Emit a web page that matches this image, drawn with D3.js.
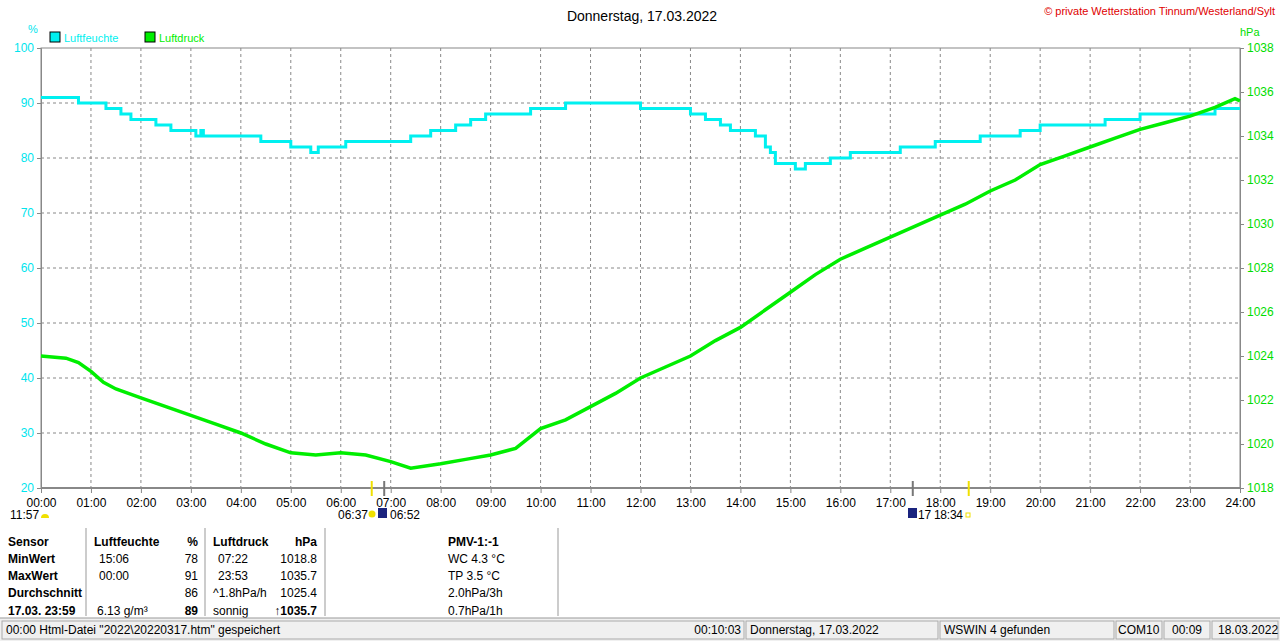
<!DOCTYPE html>
<html><head><meta charset="utf-8">
<script src="https://cdn.jsdelivr.net/npm/d3@7"></script>
<style>
body{margin:0;background:#fff;font-family:"Liberation Sans",Arial,sans-serif;}
text{font-family:"Liberation Sans",Arial,sans-serif;}
</style></head><body>
<svg id="c" width="1280" height="641"></svg>
<script>
// humidity steps [hour, %]
var humT = [0,0.75,1.3,1.6,1.8,2.3,2.6,3.1,3.2,3.25,4.4,5.0,5.4,5.55,6.1,7.4,7.8,8.3,8.6,8.9,9.8,10.5,12.0,13.0,13.3,13.6,13.8,14.3,14.5,14.6,14.7,15.1,15.3,15.8,16.2,17.2,17.9,18.8,19.6,20.0,21.3,22.0,23.5,24];
var humV = [91,90,89,88,87,86,85,84,85,84,83,82,81,82,83,84,85,86,87,88,89,90,89,88,87,86,85,84,82,81,79,78,79,80,81,82,83,84,85,86,87,88,89,89];
// pressure [hour, hPa]
var presT = [0,0.5,0.75,1.0,1.25,1.5,2.0,2.5,3.0,3.5,4.0,4.5,5.0,5.5,6.0,6.5,7.0,7.4,8.0,8.5,9.0,9.5,10.0,10.5,11.0,11.5,12.0,12.5,13.0,13.5,14.0,14.5,15.0,15.5,16.0,16.5,17.0,17.5,18.0,18.5,19.0,19.5,20.0,20.5,21.0,21.5,22.0,22.5,23.0,23.5,23.9,24];
var presV = [1024.0,1023.9,1023.7,1023.3,1022.8,1022.5,1022.1,1021.7,1021.3,1020.9,1020.5,1020.0,1019.6,1019.5,1019.6,1019.5,1019.2,1018.9,1019.1,1019.3,1019.5,1019.8,1020.7,1021.1,1021.7,1022.3,1023.0,1023.5,1024.0,1024.7,1025.3,1026.1,1026.9,1027.7,1028.4,1028.9,1029.4,1029.9,1030.4,1030.9,1031.5,1032.0,1032.7,1033.1,1033.5,1033.9,1034.3,1034.6,1034.9,1035.3,1035.7,1035.6];
var hourLabels = d3.range(0,25).map(function(h){return (h<10?"0":"")+h+":00";});
var humTicks = d3.range(20,101,10);
var presTicks = d3.range(1018,1039,2);

var svg = d3.select("#c");
var x = d3.scaleLinear().domain([0,24]).range([41,1240]);
var yH = d3.scaleLinear().domain([20,100]).range([488,48]);
var yP = d3.scaleLinear().domain([1018,1038]).range([488,48]);

// grid
svg.append("g").selectAll("line").data(d3.range(1,24)).enter().append("line")
  .attr("x1",function(d){return x(d);}).attr("x2",function(d){return x(d);})
  .attr("y1",48).attr("y2",488).attr("stroke","#888").attr("stroke-dasharray","3,3");
svg.append("g").selectAll("line").data(humTicks.slice(1,-1)).enter().append("line")
  .attr("x1",41).attr("x2",1240).attr("y1",function(d){return yH(d);}).attr("y2",function(d){return yH(d);})
  .attr("stroke","#888").attr("stroke-dasharray","3,3");
svg.append("rect").attr("x",41).attr("y",48).attr("width",1199).attr("height",440).attr("fill","none").attr("stroke","#888");
svg.append("line").attr("x1",41).attr("x2",1240).attr("y1",488).attr("y2",488).attr("stroke","#888").attr("stroke-width",2);

// axes
var axL = svg.append("g").attr("transform","translate(41,0)").call(d3.axisLeft(yH).tickValues(humTicks).tickSize(4));
axL.selectAll("text").attr("fill","#00e5ee").style("font-size","12px");
var axR = svg.append("g").attr("transform","translate(1240,0)").call(d3.axisRight(yP).tickValues(presTicks).tickSize(4).tickFormat(d3.format("d")));
axR.selectAll("text").attr("fill","#00dd00").style("font-size","12px");
var axB = svg.append("g").attr("transform","translate(0,488)").call(d3.axisBottom(x).tickValues(d3.range(0,25)).tickSize(5).tickFormat(function(d){return hourLabels[d];}));
axB.selectAll("text").attr("fill","#000").style("font-size","12px").attr("dy","0.9em");
[axL,axR,axB].forEach(function(a){a.select(".domain").attr("stroke","#888");a.selectAll(".tick line").attr("stroke","#888");});

svg.append("text").attr("x",28).attr("y",33).attr("fill","#00e5ee").style("font-size","11px").text("%");
svg.append("text").attr("x",1240).attr("y",36).attr("fill","#00dd00").style("font-size","11px").text("hPa");

// lines
svg.append("path").datum(d3.zip(humT,humV)).attr("fill","none").attr("stroke","#00f0f0").attr("stroke-width",3)
  .attr("d",d3.line().x(function(d){return x(d[0]);}).y(function(d){return yH(d[1]);}).curve(d3.curveStepAfter));
svg.append("path").datum(d3.zip(presT,presV)).attr("fill","none").attr("stroke","#00ee00").attr("stroke-width",3.5)
  .attr("d",d3.line().x(function(d){return x(d[0]);}).y(function(d){return yP(d[1]);}));

// title & legend
svg.append("text").attr("x",642).attr("y",21).attr("text-anchor","middle").style("font-size","14px").text("Donnerstag, 17.03.2022");
svg.append("text").attr("x",1275).attr("y",15).attr("text-anchor","end").attr("fill","#e00000").style("font-size","11px").text("© private Wetterstation Tinnum/Westerland/Sylt");
[["Luftfeuchte","#00f0f0",50],["Luftdruck","#00ee00",145]].forEach(function(l){
  svg.append("rect").attr("x",l[2]).attr("y",32).attr("width",10).attr("height",10).attr("fill",l[1]).attr("stroke","#000");
  svg.append("text").attr("x",l[2]+14).attr("y",42).attr("fill",l[1]).style("font-size","11px").text(l[0]);
});

// sun/moon markers
[[6.62,"#f0e000"],[18.57,"#f0e000"]].forEach(function(m){
  svg.append("line").attr("x1",x(m[0])).attr("x2",x(m[0])).attr("y1",481).attr("y2",496).attr("stroke",m[1]).attr("stroke-width",2);});
[[6.87],[17.45]].forEach(function(m){
  svg.append("line").attr("x1",x(m[0])).attr("x2",x(m[0])).attr("y1",481).attr("y2",496).attr("stroke","#777").attr("stroke-width",2);});
function t(xx,yy,s,o){var e=svg.append("text").attr("x",xx).attr("y",yy).style("font-size","12px").text(s);if(o){for(var k in o)e.attr(k,o[k]);}return e;}
t(10,519,"11:57"); svg.append("path").attr("d","M41,518 a4,4 0 0,1 8,0z").attr("fill","#f0e000");
t(338,519,"06:37"); svg.append("circle").attr("cx",372).attr("cy",514).attr("r",3.5).attr("fill","#f0e000");
svg.append("rect").attr("x",378).attr("y",508).attr("width",9).attr("height",10).attr("fill","#1a237e");
t(390,519,"06:52");
svg.append("rect").attr("x",908).attr("y",508).attr("width",9).attr("height",10).attr("fill","#1a237e");
t(918,519,"17 18:34",{"textLength":45}); svg.append("rect").attr("x",966).attr("y",513).attr("width",4).attr("height",4).attr("fill","none").attr("stroke","#f0e000");

// table
[86,205,325,558].forEach(function(xx){svg.append("line").attr("x1",xx).attr("x2",xx).attr("y1",528).attr("y2",616).attr("stroke","#bbb").attr("stroke-width",1.5);});
var rows=[536,553,570,587,605];
t(8,rows[0]+10,"Sensor",{"font-weight":"bold"});t(8,rows[1]+10,"MinWert",{"font-weight":"bold"});t(8,rows[2]+10,"MaxWert",{"font-weight":"bold"});
t(8,rows[3]+10,"Durchschnitt",{"font-weight":"bold"});t(8,rows[4]+10,"17.03.  23:59",{"font-weight":"bold","font-size":"13px"});
t(94,rows[0]+10,"Luftfeuchte",{"font-weight":"bold"});t(198,rows[0]+10,"%",{"font-weight":"bold","text-anchor":"end"});
t(99,rows[1]+10,"15:06");t(198,rows[1]+10,"78",{"text-anchor":"end"});
t(99,rows[2]+10,"00:00");t(198,rows[2]+10,"91",{"text-anchor":"end"});
t(198,rows[3]+10,"86",{"text-anchor":"end"});
t(97,rows[4]+10,"6.13 g/m³");t(198,rows[4]+10,"89",{"text-anchor":"end","font-weight":"bold","font-size":"13px"});
t(213,rows[0]+10,"Luftdruck",{"font-weight":"bold"});t(317,rows[0]+10,"hPa",{"font-weight":"bold","text-anchor":"end"});
t(218,rows[1]+10,"07:22");t(317,rows[1]+10,"1018.8",{"text-anchor":"end"});
t(218,rows[2]+10,"23:53");t(317,rows[2]+10,"1035.7",{"text-anchor":"end"});
t(213,rows[3]+10,"^1.8hPa/h");t(317,rows[3]+10,"1025.4",{"text-anchor":"end"});
t(213,rows[4]+10,"sonnig");t(317,rows[4]+10,"↑1035.7",{"text-anchor":"end","font-weight":"bold","font-size":"13px"});
t(448,rows[0]+10,"PMV-1:-1",{"font-weight":"bold"});
t(448,rows[1]+10,"WC 4.3 °C");t(448,rows[2]+10,"TP 3.5 °C");t(448,rows[3]+10,"2.0hPa/3h");t(448,rows[4]+10,"0.7hPa/1h");

// status bar
svg.append("rect").attr("x",0).attr("y",618).attr("width",1280).attr("height",23).attr("fill","#f0f0f0");
svg.append("line").attr("x1",0).attr("x2",1280).attr("y1",618).attr("y2",618).attr("stroke","#999");
[[2,744],[746,938],[940,1114],[1116,1162],[1164,1210],[1212,1278]].forEach(function(p){
  svg.append("rect").attr("x",p[0]).attr("y",621).attr("width",p[1]-p[0]).attr("height",18).attr("fill","none").attr("stroke","#aaa");});
t(6,634,"00:00  Html-Datei  \"2022\\20220317.htm\"  gespeichert");
t(741,634,"00:10:03",{"text-anchor":"end"});t(750,634,"Donnerstag, 17.03.2022");
t(944,634,"WSWIN 4 gefunden");t(1118,634,"COM10");t(1172,634,"00:09");t(1218,634,"18.03.2022");
</script></body></html>
